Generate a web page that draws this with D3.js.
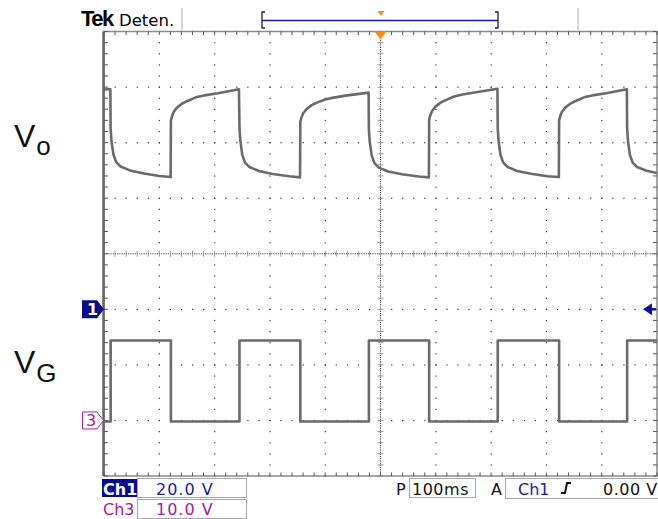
<!DOCTYPE html>
<html>
<head>
<meta charset="utf-8">
<script src="https://cdn.jsdelivr.net/npm/d3@7"></script>
<style>
html,body{margin:0;padding:0;background:#fff;}
svg{display:block;}
</style>
</head>
<body>
<svg id="c" width="658" height="519"></svg>
<script>
// ---- data (time in ms relative to trigger, volts) ----
const voTimes = [
  -500,-494,-488.5,
  -488,-486.5,-483,-478,-470,-453,-428,-400,-379.5,
  -379,-377,-374,-368,-359,-349,-334,-319,-294,-256,
  -255,-253.5,-250,-245,-237,-220,-195,-165,-145.5,
  -145,-143,-140,-134,-125,-115,-100,-85,-60,-21.5,
  -21,-19.5,-16,-11,-3,14,39,69,87.5,
  88,90,93,99,108,118,133,148,173,211.5,
  212,213.5,217,222,230,247,272,302,322.5,
  323,325,328,334,343,353,368,383,408,445.5,
  446,447.5,451,456,464,481,500];
const voVolts = [
  79.0,79.3,79.2,
  65.0,60.5,55.8,53.0,51.4,50.0,48.9,48.0,47.6,
  68.0,69.5,71.0,72.6,74.0,75.0,76.3,77.0,77.8,79.2,
  65.2,60.8,55.6,52.8,51.2,49.8,48.7,47.9,47.5,
  67.5,69.0,70.5,72.0,73.4,74.4,75.5,76.2,77.0,78.0,
  64.8,60.4,55.4,52.6,51.0,49.6,48.6,47.8,47.5,
  68.3,69.8,71.3,72.9,74.3,75.3,76.6,77.3,78.1,79.4,
  65.0,60.6,55.6,52.8,51.2,49.8,48.8,47.9,47.6,
  68.0,69.5,71.0,72.6,74.0,75.0,76.3,77.0,77.8,79.2,
  65.0,60.6,55.6,52.8,51.2,49.9,49.1];
const vgTimes = [-500,-488,-488,-379,-379,-255,-255,-145,-145,-21,-21,88,88,212,212,323,323,446,446,500];
const vgVolts = [-0.2,-0.2,14.4,14.4,-0.2,-0.2,14.4,14.4,-0.2,-0.2,14.4,14.4,-0.2,-0.2,14.4,14.4,-0.2,-0.2,14.4,14.4];
const ch1Scale = "20.0 V", ch3Scale = "10.0 V", timeBase = "100ms", trigLevel = "0.00 V";

// ---- layout ----
const svg = d3.select("#c");
const L=104, R=657, T=31.5, B=476;
const x = d3.scaleLinear([-500,500],[L,R]);
const yDiv = d3.scaleLinear([-4,4],[B,T]);
const xDiv = d3.scaleLinear([-5,5],[L,R]);
const y1 = d3.scaleLinear([-60,100],[B,T]);   // Ch1: 20 V/div, ground at -1 div
const y3 = d3.scaleLinear([-10,70],[B,T]);    // Ch3: 10 V/div, ground at -3 div

const g = svg.append("g");
// dotted grid
const minor = d3.range(-25,26).map(i=>i/5);
const minorY = d3.range(-20,21).map(i=>i/5);
[-4,-3,-2,-1,1,2,3,4].forEach(d=>{
  minorY.forEach(m=>{ g.append("rect").attr("x",xDiv(d)-0.5).attr("y",yDiv(m)-0.5).attr("width",1.2).attr("height",1.2).attr("fill","#333"); });
});
[-3,-2,-1,1,2,3].forEach(d=>{
  minor.forEach(m=>{ g.append("rect").attr("x",xDiv(m)-0.5).attr("y",yDiv(d)-0.5).attr("width",1.2).attr("height",1.2).attr("fill","#333"); });
});
// center cross
g.append("line").attr("x1",xDiv(0)).attr("x2",xDiv(0)).attr("y1",T).attr("y2",B).attr("stroke","#222").attr("stroke-dasharray","1,1.2");
g.append("line").attr("x1",L).attr("x2",R).attr("y1",yDiv(0)).attr("y2",yDiv(0)).attr("stroke","#222").attr("stroke-dasharray","1,1.2");
minorY.forEach(m=>{ g.append("line").attr("x1",xDiv(0)-3).attr("x2",xDiv(0)+3).attr("y1",yDiv(m)).attr("y2",yDiv(m)).attr("stroke","#999"); });
minor.forEach(m=>{ g.append("line").attr("y1",yDiv(0)-3).attr("y2",yDiv(0)+3).attr("x1",xDiv(m)).attr("x2",xDiv(m)).attr("stroke","#999"); });
// border
g.append("rect").attr("x",L).attr("y",T).attr("width",R-L).attr("height",B-T).attr("fill","none").attr("stroke","#8a8a8a").attr("stroke-width",1.5);
g.append("line").attr("x1",L-0.5).attr("x2",L-0.5).attr("y1",T).attr("y2",B).attr("stroke","#666").attr("stroke-width",2.5);
minor.forEach(m=>{
  g.append("line").attr("x1",xDiv(m)).attr("x2",xDiv(m)).attr("y1",T).attr("y2",T+3.5).attr("stroke","#555");
  g.append("line").attr("x1",xDiv(m)).attr("x2",xDiv(m)).attr("y1",B).attr("y2",B-3.5).attr("stroke","#555");
});
minorY.forEach(m=>{
  g.append("line").attr("x1",L).attr("x2",L+4).attr("y1",yDiv(m)).attr("y2",yDiv(m)).attr("stroke","#555");
  g.append("line").attr("x1",R).attr("x2",R-4).attr("y1",yDiv(m)).attr("y2",yDiv(m)).attr("stroke","#555");
});

// traces
const vo = voTimes.map((t,i)=>[t,voVolts[i]]);
const vg = vgTimes.map((t,i)=>[t,vgVolts[i]]);
svg.append("path").datum(vo).attr("d",d3.line().x(d=>x(d[0])).y(d=>y1(d[1])))
  .attr("fill","none").attr("stroke","#6a6a6a").attr("stroke-width",2.6).attr("stroke-linejoin","round");
svg.append("path").datum(vg).attr("d",d3.line().x(d=>x(d[0])).y(d=>y3(d[1])))
  .attr("fill","none").attr("stroke","#6a6a6a").attr("stroke-width",2.6).attr("stroke-linejoin","round");

// ground markers
const m1y = y1(0), m3y = y3(0);
svg.append("path").attr("d",`M82,${m1y-9}H97L104,${m1y}L97,${m1y+9}H82Z`).attr("fill","#0c0c8a");
svg.append("text").attr("x",87).attr("y",m1y+6).text("1").attr("fill","#fff").attr("font-family","DejaVu Sans").attr("font-weight","bold").attr("font-size",16);
svg.append("path").attr("d",`M82.5,${m3y-8.5}H97L103.5,${m3y}L97,${m3y+8.5}H82.5Z`).attr("fill","#fff").attr("stroke","#a020a0");
svg.append("text").attr("x",86).attr("y",m3y+6).text("3").attr("fill","#a020a0").attr("font-family","DejaVu Sans").attr("font-size",16);
svg.append("path").attr("d",`M643,${m1y}L652,${m1y-6}V${m1y+6}Z`).attr("fill","#1010a0");
svg.append("line").attr("x1",650).attr("x2",656).attr("y1",m1y).attr("y2",m1y).attr("stroke","#1010a0").attr("stroke-width",2.5);

// trigger position marker
svg.append("path").attr("d",`M${x(0)-6},${T}L${x(0)+6},${T}L${x(0)},${T+8}Z`).attr("fill","#ff8a1c");

// header
svg.append("text").attr("x",81).attr("y",26).text("Tek").attr("font-family","Liberation Sans Narrow, Liberation Sans").attr("font-weight","bold").attr("font-size",22).attr("letter-spacing",-1.5);
svg.append("text").attr("x",119).attr("y",26).text("Deten.").attr("font-family","DejaVu Sans").attr("font-size",16.5);
[182,578].forEach(sx=>svg.append("line").attr("x1",sx).attr("x2",sx).attr("y1",8).attr("y2",30).attr("stroke","#c8c8c8").attr("stroke-width",1.5));
svg.append("path").attr("d","M265,12H262V28H265").attr("fill","none").attr("stroke","#222").attr("stroke-width",1.3);
svg.append("path").attr("d","M495,12H498V28H495").attr("fill","none").attr("stroke","#222").attr("stroke-width",1.3);
svg.append("line").attr("x1",262).attr("x2",498).attr("y1",20.5).attr("y2",20.5).attr("stroke","#1818a8").attr("stroke-width",1.6);
svg.append("path").attr("d","M377.5,11H384.5L381,16Z").attr("fill","#ff8a1c");

// labels
const lab = (yb, sub, yb2, subSize) => {
  const t = svg.append("text").attr("x",14).attr("y",yb).attr("font-family","Liberation Sans").attr("font-size",32).attr("fill","#111");
  t.append("tspan").text("V");
  t.append("tspan").attr("dx",1).attr("dy",yb2-yb).attr("font-size",subSize).text(sub);
};
lab(147,"o",155,26);
lab(373,"G",382,26);

// bottom status
const F = "DejaVu Sans";
const FS = 16;
const box = (x0,y0,w,h)=>svg.append("rect").attr("x",x0+0.5).attr("y",y0+0.5).attr("width",w).attr("height",h).attr("fill","none").attr("stroke","#a6a6a6");
svg.append("rect").attr("x",102).attr("y",479).attr("width",35).attr("height",18).attr("fill","#0c0c8a");
svg.append("text").attr("x",103).attr("y",495).text("Ch1").attr("fill","#fff").attr("font-family",F).attr("font-weight","bold").attr("font-size",FS);
box(137,478,109,19);
svg.append("text").attr("x",156).attr("y",495).text(ch1Scale).attr("fill","#1a1aa0").attr("font-family",F).attr("font-size",FS).attr("letter-spacing",1);
svg.append("text").attr("x",103).attr("y",515).text("Ch3").attr("fill","#a020a0").attr("font-family",F).attr("font-size",FS);
box(137,499,109,19);
svg.append("text").attr("x",156).attr("y",515).text(ch3Scale).attr("fill","#a020a0").attr("font-family",F).attr("font-size",FS).attr("letter-spacing",1);
svg.append("text").attr("x",396).attr("y",495).text("P").attr("fill","#111").attr("font-family",F).attr("font-size",FS);
box(409,478,66,19);
svg.append("text").attr("x",412).attr("y",495).text(timeBase).attr("fill","#111").attr("font-family",F).attr("font-size",FS).attr("letter-spacing",0.5);
svg.append("text").attr("x",491).attr("y",495).text("A").attr("fill","#111").attr("font-family",F).attr("font-size",FS);
box(505,478,160,20);
svg.append("text").attr("x",518).attr("y",495).text("Ch1").attr("fill","#1a1aa0").attr("font-family",F).attr("font-size",FS);
svg.append("path").attr("d","M561,493H565L567,483H571").attr("fill","none").attr("stroke","#111").attr("stroke-width",2);
svg.append("text").attr("x",603).attr("y",495).text(trigLevel).attr("fill","#111").attr("font-family",F).attr("font-size",FS).attr("letter-spacing",0.5);
</script>
</body>
</html>
